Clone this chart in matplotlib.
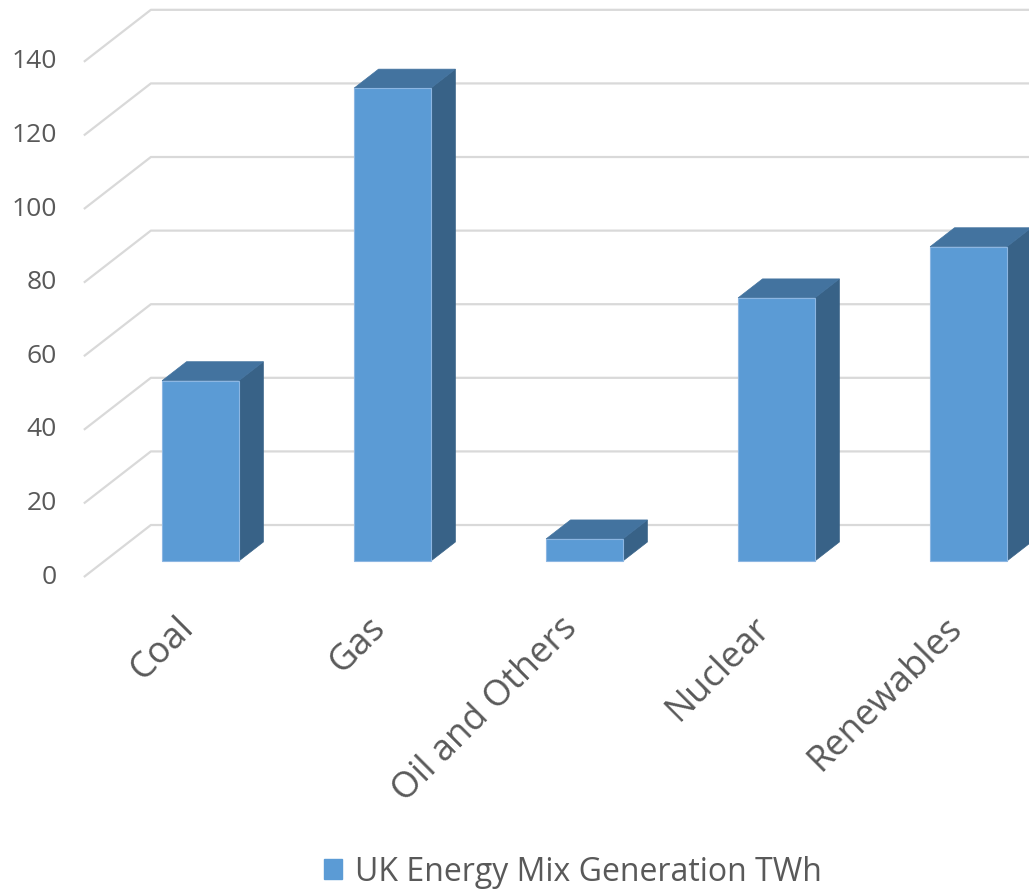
import matplotlib
matplotlib.use("Agg")
import matplotlib.pyplot as plt
from matplotlib.patches import Polygon, Patch

# ----------------------------------------------------------------------
# 数据
# ----------------------------------------------------------------------
categories = ["Coal", "Gas", "Oil and Others", "Nuclear", "Renewables"]
values = [49, 128.5, 6, 71.5, 85.4]
y_ticks = [0, 20, 40, 60, 80, 100, 120, 140]
series_name = "UK Energy Mix Generation TWh"

# ----------------------------------------------------------------------
# 样式
# ----------------------------------------------------------------------
FRONT = "#5B9BD5"
TOP = "#43739F"
SIDE = "#386287"
GRID = "#D9D9D9"
TEXT = "#595959"
FONT = "Open Sans"

W_PX, H_PX = 1029, 889
PX_X, PX_V = 192.0, 3.68        # px per category / per value unit
X0_PX, Y0_PX = 200.5, 328.0      # px of category 0 / value 0 (bottom origin)
DX, DY = 67 / PX_X, 52 / PX_V    # full depth offset in data units
ZF, ZB = 0.308, 0.673            # bar front / back depth
HALF = 0.2                       # half bar width


def proj(x, v, z):
    """oblique projection of (category, value, depth) into 2D data coords"""
    return x + (z - ZF) * DX, v + (z - ZF) * DY


fig = plt.figure(figsize=(W_PX / 100, H_PX / 100), dpi=100)
ax = fig.add_axes([0, 0, 1, 1])
ax.set_xlim(-X0_PX / PX_X, (W_PX - X0_PX) / PX_X)
ax.set_ylim(-Y0_PX / PX_V, (H_PX - Y0_PX) / PX_V)
ax.axis("off")

x_left, x_right = -0.5, len(categories) - 0.5

# 网格线（左墙 + 后墙）
for t in y_ticks:
    pts = [proj(x_left, t, 0), proj(x_left, t, 1), proj(x_right, t, 1)]
    ax.plot([p[0] for p in pts], [p[1] for p in pts], color=GRID,
            lw=1.6, solid_capstyle="butt", zorder=1)
    fx, fy = proj(x_left, t, 0)
    ax.text(fx - 27 / PX_X, fy, str(t), ha="right", va="center",
            fontsize=19, color=TEXT, family=FONT)

# 柱子
for i, v in enumerate(values):
    l, r = i - HALF, i + HALF
    side = [proj(r, 0, ZF), proj(r, v, ZF), proj(r, v, ZB), proj(r, 0, ZB)]
    top = [proj(l, v, ZF), proj(r, v, ZF), proj(r, v, ZB), proj(l, v, ZB)]
    front = [proj(l, 0, ZF), proj(r, 0, ZF), proj(r, v, ZF), proj(l, v, ZF)]
    ax.add_patch(Polygon(side, closed=True, fc=SIDE, ec=SIDE, lw=0.5, zorder=3))
    ax.add_patch(Polygon(top, closed=True, fc=TOP, ec=TOP, lw=0.5, zorder=3))
    ax.add_patch(Polygon(front, closed=True, fc=FRONT, ec="#8CB6E2",
                         lw=0.8, zorder=4))

# 类别标签（45° 旋转）
for i, c in enumerate(categories):
    fx, fy = proj(i, 0, 0)
    ax.text(fx - 4 / PX_X, fy - 33 / PX_V, c, rotation=45,
            rotation_mode="anchor", ha="right", va="top",
            fontsize=26, color=TEXT, family=FONT)

# 图例
handle = Patch(facecolor=FRONT, edgecolor=FRONT, label=series_name)
leg = fig.legend(handles=[handle], loc="center", bbox_to_anchor=(0.557, 0.019),
                 frameon=False, handlelength=0.57, handleheight=0.57,
                 handletextpad=0.4, prop={"family": FONT, "size": 23})
for txt in leg.get_texts():
    txt.set_color(TEXT)

fig.savefig("out.png", dpi=100)
